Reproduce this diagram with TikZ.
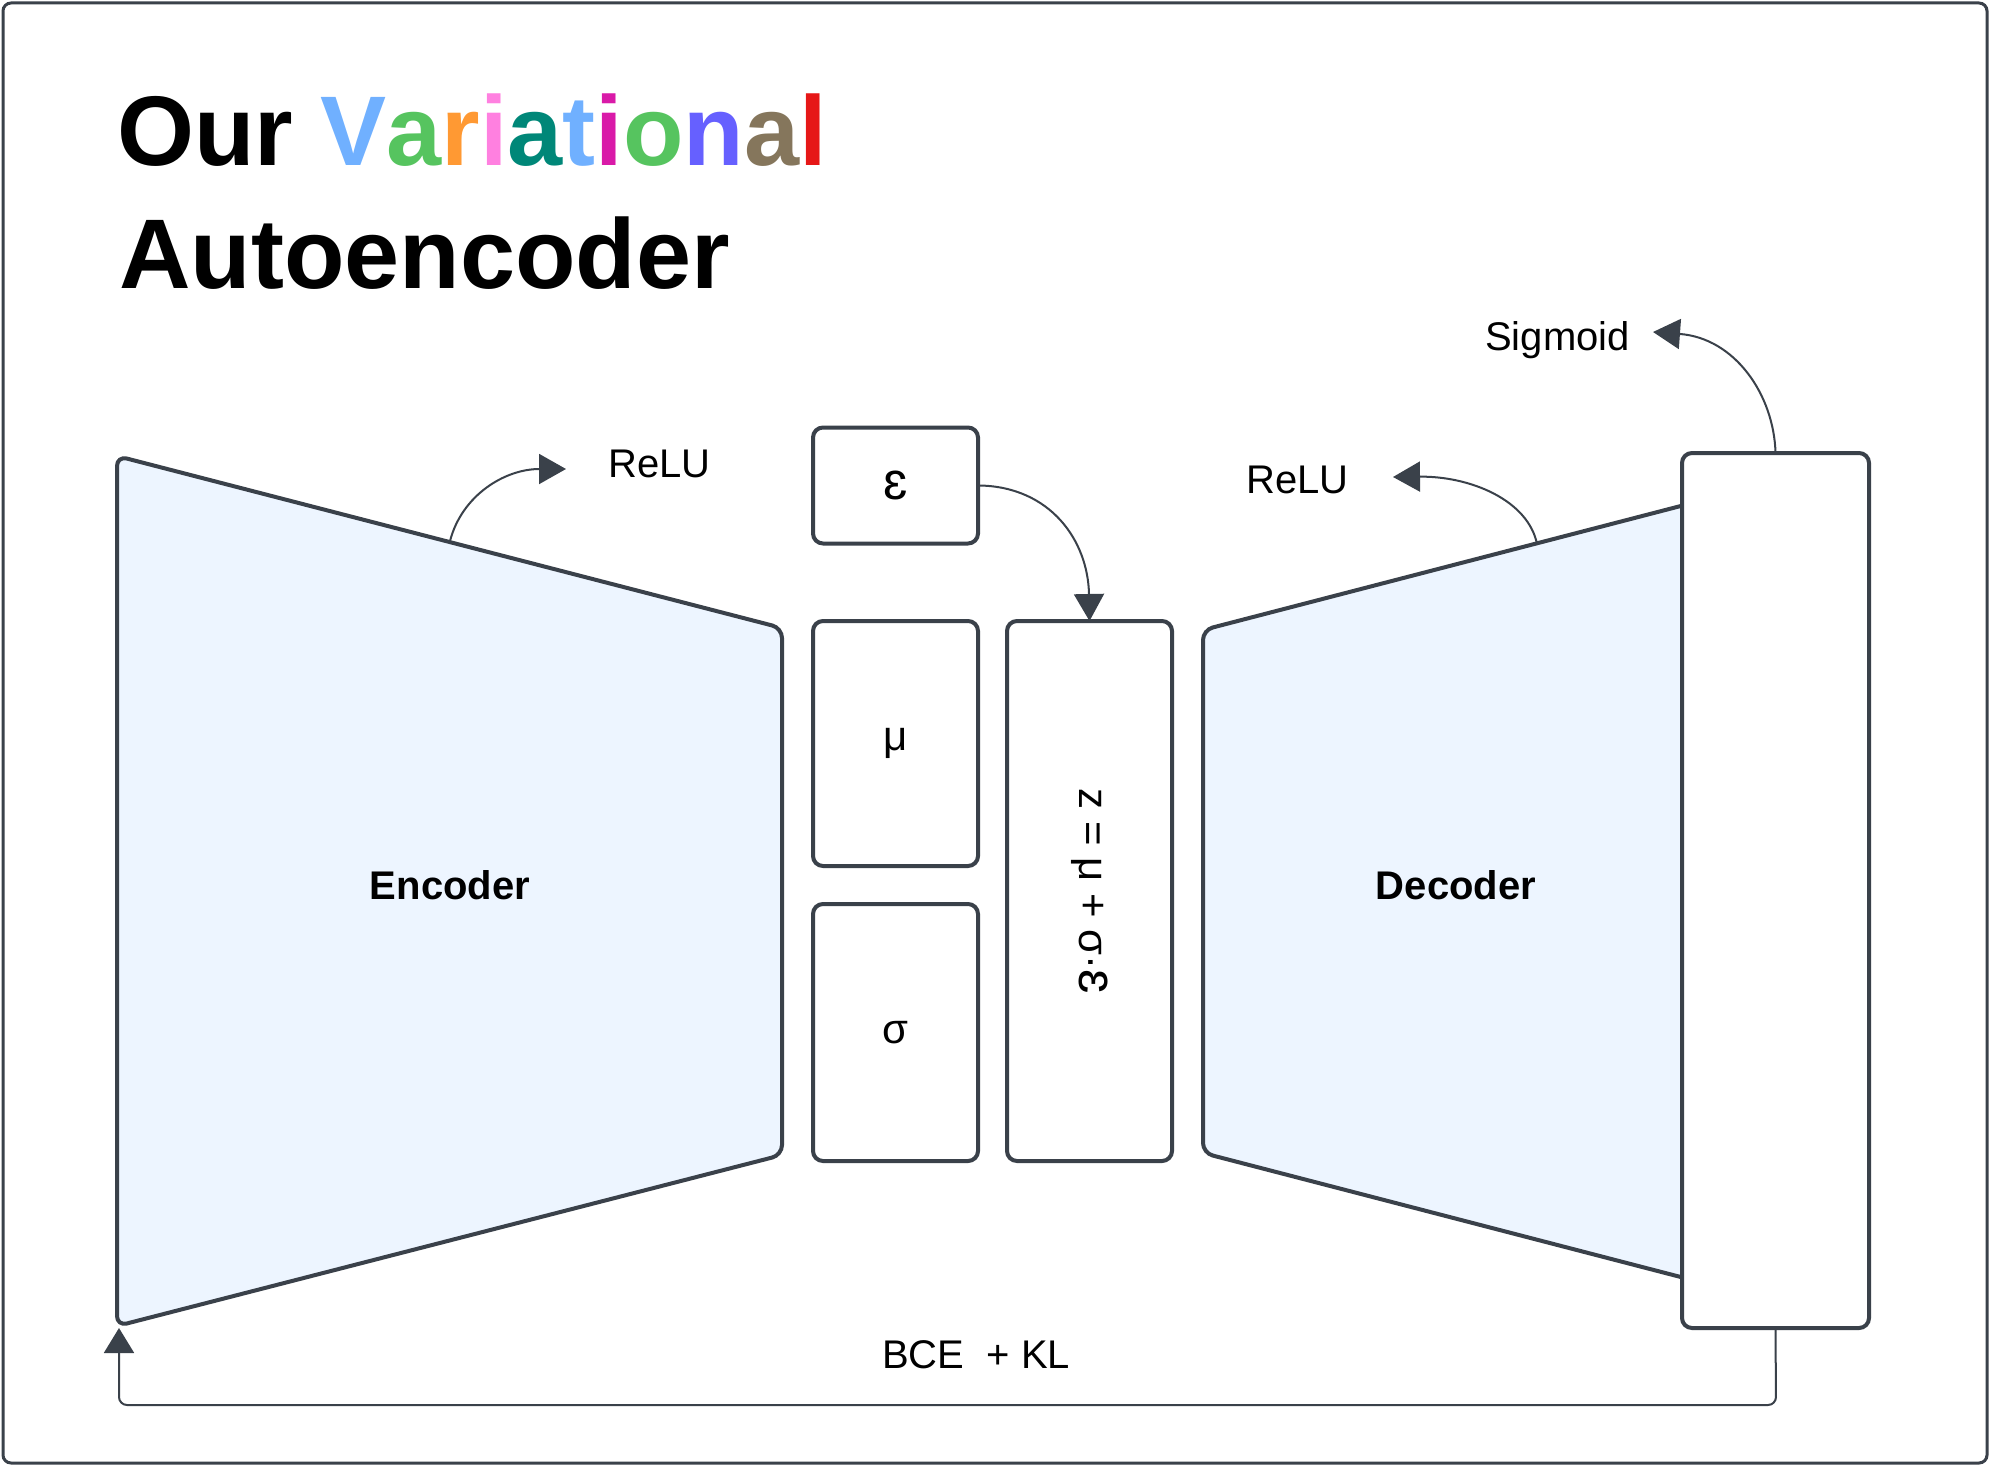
\documentclass[tikz,border=0pt]{standalone}
\usepackage{fontspec}
\setmainfont{Liberation Sans}
\usetikzlibrary{arrows.meta}
\definecolor{ink}{HTML}{3A414A}
\definecolor{fillblue}{HTML}{EDF5FF}
\definecolor{cA}{HTML}{70B0FF}
\definecolor{cB}{HTML}{56C45F}
\definecolor{cC}{HTML}{FF9933}
\definecolor{cD}{HTML}{FF80E0}
\definecolor{cE}{HTML}{008778}
\definecolor{cF}{HTML}{D91AA8}
\definecolor{cG}{HTML}{6660FF}
\definecolor{cH}{HTML}{85765C}
\definecolor{cI}{HTML}{E61717}
\newcommand{\bigeps}{{\fontsize{53}{53}\selectfont ɛ}}
\tikzset{
  box/.style={draw=ink, line width=4pt, rounded corners=10pt, fill=white, inner sep=0pt, font=\fontsize{42}{42}\selectfont},
  trap/.style={draw=ink, line width=4pt, rounded corners=10pt, fill=fillblue},
  conn/.style={draw=ink, line width=2pt, -{Triangle[length=27pt,width=30pt]}},
  lbl/.style={inner sep=0pt, font=\fontsize{40}{40}\selectfont},
  blbl/.style={inner sep=0pt, font=\fontsize{40}{40}\selectfont\bfseries},
  ttl/.style={inner sep=0pt, anchor=base west, font=\fontsize{99}{99}\selectfont\bfseries}
}
\begin{document}
\begin{tikzpicture}[x=1pt,y=-1pt]
\useasboundingbox (0,0) rectangle (1991,1466);
\draw[ink, line width=3pt, rounded corners=8pt] (3,3) rectangle (1987,1463);
% title
\node[ttl] (t1) at (117,166) {Our \textcolor{cA}{V}\textcolor{cB}{a}\textcolor{cC}{r}\textcolor{cD}{i}\textcolor{cE}{a}\textcolor{cA}{t}\textcolor{cF}{i}\textcolor{cB}{o}\textcolor{cG}{n}\textcolor{cH}{a}\textcolor{cI}{l}};
\node[ttl] (t2) at (119,288) {Autoencoder};
% encoder / decoder
\draw[trap] (117,456) -- (782,628) -- (782,1155) -- (117,1326) -- cycle;
\draw[trap] (1203,630) -- (1700,501) -- (1700,1282) -- (1203,1153) -- cycle;
\node[blbl] (enc) at (450,885) {Encoder};
\node[blbl] (dec) at (1456,885) {Decoder};
% boxes
\node[box, minimum width=165pt, minimum height=116pt] (eps) at (895.5,485.5) {\bigeps};
\node[box, minimum width=165pt, minimum height=245pt] (mu) at (895.5,743.5) {μ};
\node[box, minimum width=165pt, minimum height=257pt] (sig) at (895.5,1032.5) {σ};
\node[box, minimum width=165pt, minimum height=540pt] (z) at (1089.5,891) {};
\node[inner sep=0pt, rotate=-90, font=\fontsize{42}{42}\selectfont] (zt) at (z.center) {z = μ + σ·\bigeps};
\node[box, minimum width=187pt, minimum height=875pt] (out) at (1775.5,890.5) {};
% labels
\node[lbl, anchor=base west] (relu1) at (608,477) {ReLU};
\node[lbl, anchor=base west] (relu2) at (1246,493) {ReLU};
\node[lbl, anchor=base west] (sigm) at (1485,350) {Sigmoid};
\node[lbl, anchor=base west] (loss) at (882,1368) {BCE\ \ + KL};
% connector endpoints
\coordinate (encr) at (450,541);
\coordinate (encrtip) at (566,469);
\coordinate (decr) at (1537,544);
\coordinate (decrtip) at (1393,477);
\coordinate (sigtip) at (1653,332);
\coordinate (encbl) at (119,1328);
% connectors
\draw[conn] (eps.east) .. controls (1050,487) and (1088,540) .. ([yshift=-2pt]z.north);
\draw[conn] (encr) .. controls (462,495) and (505,469) .. (encrtip);
\draw[conn] (decr) .. controls (1528,500) and (1470,476) .. (decrtip);
\draw[conn] ([yshift=-2pt]out.north) .. controls (1774,395) and (1735,338) .. (sigtip);
\draw[conn, rounded corners=8pt, -{Triangle[length=25pt,width=30pt]}] ([yshift=2pt]out.south) -- (1776,1405) -- (119,1405) -- (encbl);
\end{tikzpicture}
\end{document}
